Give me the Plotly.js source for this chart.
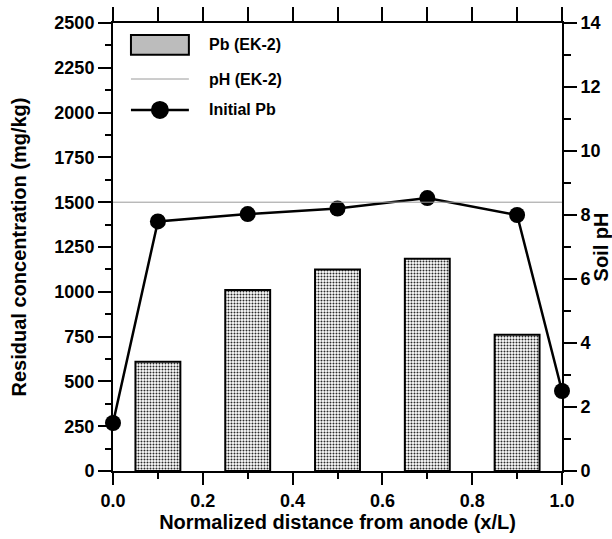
<!DOCTYPE html>
<html><head><meta charset="utf-8">
<script src="https://cdn.plot.ly/plotly-3.0.1.min.js"></script>
<style>html,body{margin:0;padding:0;background:#fff}</style>
</head><body>
<div id="chart" style="width:612px;height:539px"></div>
<script>
// Data
const barX = [0.1, 0.3, 0.5, 0.7, 0.9];
const pbEK2 = [610, 1010, 1125, 1185, 760];          // mg/kg (left axis)
const lineX = [0, 0.1, 0.3, 0.5, 0.7, 0.9, 1.0];
const soilPH = [1.5, 7.8, 8.03, 8.2, 8.53, 8.0, 2.5]; // pH (right axis)
const refX = [0, 1];
const initialPb = [1500, 1500];                      // mg/kg (left axis)
const xTickVals = [0, 0.2, 0.4, 0.6, 0.8, 1.0];
const xTickText = ['0.0', '0.2', '0.4', '0.6', '0.8', '1.0'];
const yTickVals = [0, 250, 500, 750, 1000, 1250, 1500, 1750, 2000, 2250, 2500];
const y2TickVals = [0, 2, 4, 6, 8, 10, 12, 14];
const legendLabels = ['Pb (EK-2)', 'pH (EK-2)', 'Initial Pb'];

const F = 'Liberation Sans';
const font = (s) => ({family: F, size: s, color: '#000', weight: 'bold'});
const B = (s) => '<b>' + s + '</b>';

const traces = [
  {
    type: 'bar', x: barX, y: pbEK2, width: 0.1, xaxis: 'x', yaxis: 'y',
    marker: {color: '#ffffff', line: {color: '#000', width: 2},
      pattern: {shape: '.', size: 3, solidity: 0.36, fgcolor: '#2a2a2a', bgcolor: '#ffffff'}},
    showlegend: false, hoverinfo: 'skip'
  },
  {
    type: 'scatter', mode: 'lines', x: refX, y: initialPb, xaxis: 'x2', yaxis: 'y',
    line: {color: '#9a9a9a', width: 1}, showlegend: false, hoverinfo: 'skip'
  },
  {
    type: 'scatter', mode: 'lines+markers', x: lineX, y: soilPH, xaxis: 'x', yaxis: 'y2',
    line: {color: '#000', width: 2.5}, marker: {color: '#000', size: 16},
    cliponaxis: false, showlegend: false, hoverinfo: 'skip'
  }
];

// manual legend geometry (paper coords)
const lx0 = 0.040, lx1 = 0.169, tx = 0.209;
const ly = [0.951, 0.875, 0.806];
const shapes = [
  {type: 'rect', xref: 'paper', yref: 'paper', x0: lx0, x1: lx1, y0: 0.929, y1: 0.973,
   fillcolor: '#bcbcbc', line: {color: '#000', width: 2}},
  {type: 'line', xref: 'paper', yref: 'paper', x0: lx0, x1: lx1, y0: ly[1], y1: ly[1],
   line: {color: '#9a9a9a', width: 1}},
  {type: 'line', xref: 'paper', yref: 'paper', x0: lx0, x1: lx1, y0: ly[2], y1: ly[2],
   line: {color: '#000', width: 2.5}},
  {type: 'circle', xref: 'paper', yref: 'paper', xsizemode: 'pixel', ysizemode: 'pixel',
   xanchor: (lx0 + lx1) / 2, yanchor: ly[2], x0: -9, x1: 9, y0: -9, y1: 9,
   fillcolor: '#000', line: {color: '#000', width: 0}}
];
const annotations = legendLabels.map((t, i) => ({
  xref: 'paper', yref: 'paper', x: tx, y: ly[i], text: B(t), showarrow: false,
  xanchor: 'left', yanchor: 'middle', font: font(16)
}));

const tickCommon = {ticks: 'outside', tickwidth: 2, tickcolor: '#000',
  showline: true, linewidth: 2, linecolor: '#000', showgrid: false, zeroline: false,
  tickfont: font(18)};

const layout = {
  width: 612, height: 539,
  margin: {l: 113, r: 50, t: 23, b: 68},
  paper_bgcolor: '#fff', plot_bgcolor: '#fff',
  font: font(18),
  showlegend: false,
  xaxis: Object.assign({}, tickCommon, {
    range: [0, 1], tickmode: 'array', tickvals: xTickVals, ticktext: xTickText.map(B), ticklen: 12,
    minor: {dtick: 0.1, tick0: 0, ticks: 'outside', ticklen: 6, tickwidth: 2, tickcolor: '#000'},
    title: {text: B('Normalized distance from anode (x/L)'), font: font(20), standoff: 4}
  }),
  xaxis2: {
    overlaying: 'x', side: 'top', anchor: 'y', range: [0, 1], dtick: 0.1, tick0: 0,
    ticks: 'outside', ticklen: 14, tickwidth: 2, tickcolor: '#000',
    showticklabels: false, showline: true, linewidth: 2, linecolor: '#000',
    showgrid: false, zeroline: false
  },
  yaxis: Object.assign({}, tickCommon, {
    range: [0, 2500], tickmode: 'array', tickvals: yTickVals, ticktext: yTickVals.map(v => B(String(v))), ticklen: 13,
    minor: {dtick: 125, tick0: 0, ticks: 'outside', ticklen: 6, tickwidth: 2, tickcolor: '#000'},
    title: {text: B('Residual concentration (mg/kg)'), font: font(20), standoff: 22}
  }),
  yaxis2: Object.assign({}, tickCommon, {
    overlaying: 'y', side: 'right', anchor: 'x', range: [0, 14], tickmode: 'array',
    tickvals: y2TickVals, ticktext: y2TickVals.map(v => B(String(v))), ticklen: 13,
    minor: {dtick: 1, tick0: 0, ticks: 'outside', ticklen: 7, tickwidth: 2, tickcolor: '#000'},
    title: {text: B('Soil pH'), font: font(20), standoff: 0}
  }),
  shapes: shapes,
  annotations: annotations
};

Plotly.newPlot('chart', traces, layout, {displayModeBar: false, staticPlot: true});
</script>
</body></html>
